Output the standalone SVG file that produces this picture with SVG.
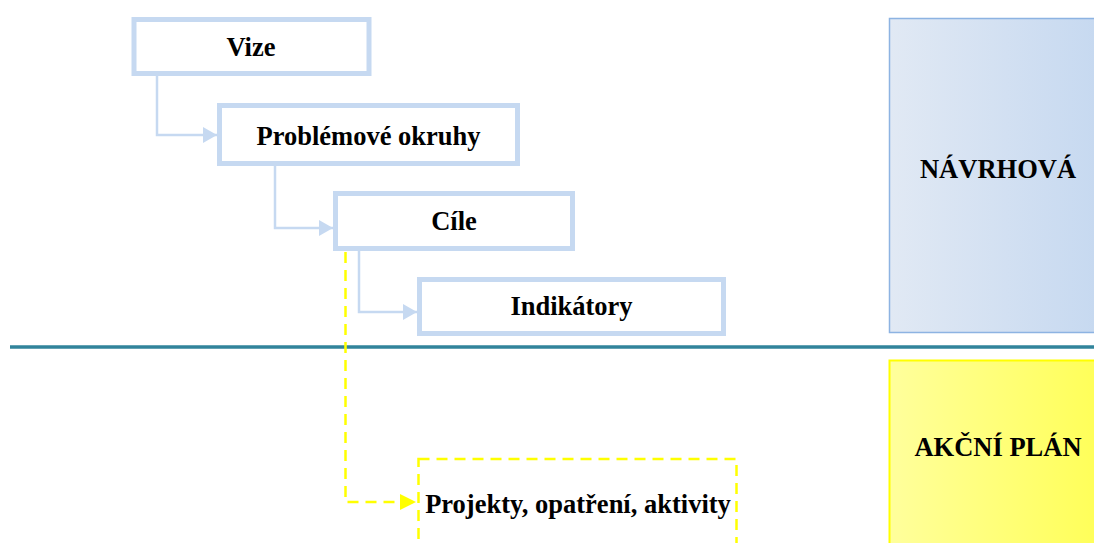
<svg xmlns="http://www.w3.org/2000/svg" width="1094" height="543" viewBox="0 0 1094 543">
<style>
.box{fill:#fff;stroke:#C6D9F1;stroke-width:5}
.lbl{font-family:"Liberation Serif",serif;font-weight:bold;font-size:26.5px;fill:#000;text-anchor:middle}
.con{fill:none;stroke:#C6D9F1;stroke-width:2.5}
.ycon{fill:none;stroke:#FFFF00;stroke-width:2.5;stroke-dasharray:11 7}
</style>
<defs>
<linearGradient id="gb" x1="0" y1="0" x2="1" y2="0"><stop offset="0" stop-color="#E1E9F4"/><stop offset="1" stop-color="#C5D8F0"/></linearGradient>
<linearGradient id="gy" x1="0" y1="0" x2="1" y2="0"><stop offset="0" stop-color="#FFFF9C"/><stop offset="1" stop-color="#FFFF55"/></linearGradient>
<marker id="ab" markerUnits="userSpaceOnUse" viewBox="0 0 14 16" refX="14" refY="8" markerWidth="14" markerHeight="16" orient="auto"><path d="M0,0 L14,8 L0,16 z" fill="#C6D9F1"/></marker>
<marker id="ay" markerUnits="userSpaceOnUse" viewBox="0 0 16 16" refX="16" refY="8" markerWidth="16" markerHeight="16" orient="auto"><path d="M0,0 L16,8 L0,16 z" fill="#FFFF00"/></marker>
</defs>
<g id="navrhova">
<rect x="889.5" y="18.5" width="220" height="314" fill="url(#gb)" stroke="#8DB3E2" stroke-width="1.5"/>
<text class="lbl" x="998" y="178">NÁVRHOVÁ</text>
</g>
<g id="akcni-plan">
<rect x="889.5" y="360.5" width="220" height="200" fill="url(#gy)" stroke="#FFFF00" stroke-width="2"/>
<text class="lbl" x="998" y="456">AKČNÍ PLÁN</text>
</g>
<g id="divider">
<line x1="10" y1="347" x2="1094" y2="347" stroke="#31849B" stroke-width="3.5"/>
</g>
<g id="connectors">
<path class="con" d="M157,76 V135 H217" marker-end="url(#ab)"/>
<path class="con" d="M275,166 V228 H333" marker-end="url(#ab)"/>
<path class="con" d="M359,251 V312 H417" marker-end="url(#ab)"/>
<path class="ycon" d="M345.5,252 V502 H416" marker-end="url(#ay)"/>
</g>
<g id="vize">
<rect class="box" x="134" y="19.5" width="235" height="54"/>
<text class="lbl" x="251" y="56">Vize</text>
</g>
<g id="problemove-okruhy">
<rect class="box" x="219.5" y="105.5" width="298" height="58"/>
<text class="lbl" x="368.5" y="145">Problémové okruhy</text>
</g>
<g id="cile">
<rect class="box" x="335.5" y="193.5" width="237" height="55"/>
<text class="lbl" x="454" y="230">Cíle</text>
</g>
<g id="indikatory">
<rect class="box" x="419.5" y="279.5" width="304" height="54"/>
<text class="lbl" x="571.5" y="315">Indikátory</text>
</g>
<g id="projekty">
<rect x="418.5" y="459" width="318" height="100" fill="none" stroke="#FFFF00" stroke-width="2.5" stroke-dasharray="11 7"/>
<text class="lbl" x="578" y="513">Projekty, opatření, aktivity</text>
</g>
</svg>
